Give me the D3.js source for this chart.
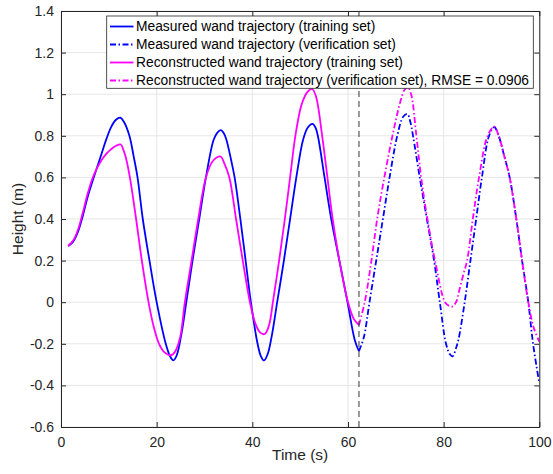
<!DOCTYPE html>
<html><head><meta charset="utf-8">
<script src="https://cdn.jsdelivr.net/npm/d3@7"></script>
<style>body{margin:0;background:#fff;} svg{display:block;font-family:"Liberation Sans",Arial,sans-serif;}</style>
</head><body>
<script>
// ---- data ----
const xTicks = [0, 20, 40, 60, 80, 100];
const xTickLabels = ["0", "20", "40", "60", "80", "100"];
const yTicks = [-0.6, -0.4, -0.2, 0, 0.2, 0.4, 0.6, 0.8, 1, 1.2, 1.4];
const yTickLabels = ["-0.6", "-0.4", "-0.2", "0", "0.2", "0.4", "0.6", "0.8", "1", "1.2", "1.4"];
const splitTime = 62.3;

const measTrainT = [1.5,2.5,3.5,4.5,5.5,6.5,7.5,8.5,9.5,10.5,11.5,12.4,13.2,14.3,15.2,16,17.1,18.5,20,21.9,22.8,23.5,24.2,25.2,26.2,27.5,28.9,30.3,31.9,32.7,33.4,34.1,34.6,35.6,36.3,37.5,38.6,39.7,41.1,41.8,42.45,43.2,44,45.2,46.6,47.9,49.2,50.6,51.6,52.6,53.2,53.7,55.1,56.5,58.2,59.9,61.4,62.3];
const measTrainV = [0.27,0.29,0.335,0.41,0.50,0.575,0.645,0.715,0.785,0.843,0.877,0.887,0.865,0.80,0.70,0.60,0.40,0.20,0.0,-0.20,-0.26,-0.28,-0.255,-0.15,0.0,0.2,0.4,0.6,0.78,0.815,0.827,0.81,0.78,0.68,0.6,0.4,0.2,0.0,-0.2,-0.26,-0.28,-0.25,-0.17,0.0,0.2,0.4,0.6,0.78,0.84,0.857,0.84,0.8,0.6,0.4,0.2,0.0,-0.18,-0.235];

const measVerT = [62.3,63.3,64.5,65.9,67.3,68.7,70.3,71.5,72.4,73,73.6,75,76.5,78,79.2,80.5,81.3,81.9,82.6,83.1,84.4,85.6,86.8,88,89.5,90.6,91.5,92.7,93.8,95.2,96.4,97.7,98.7,100];
const measVerV = [-0.235,-0.17,0.0,0.2,0.4,0.6,0.8,0.89,0.905,0.87,0.8,0.6,0.4,0.2,0.0,-0.2,-0.25,-0.26,-0.22,-0.18,0.0,0.2,0.4,0.6,0.8,0.842,0.80,0.7,0.6,0.4,0.2,0.0,-0.2,-0.39];

const recTrainT = [1.5,2.5,3.5,4.5,5.5,6.5,7.5,8.5,9.5,10.5,11.5,12.5,13,13.5,14.4,15.7,16.9,18.3,19.3,20.5,21.6,23,23.8,24.9,25.9,27.3,28.7,30.3,31.8,33.4,34.1,35.2,36.6,38,39.5,40.6,41.6,42.6,43.5,44.3,45.6,46.8,47.9,49,50.3,51.5,52.5,53.3,54.6,55.7,56.8,58.2,60,61.2,62.3];
const recTrainV = [0.27,0.295,0.345,0.425,0.515,0.59,0.643,0.684,0.714,0.736,0.752,0.758,0.735,0.70,0.60,0.40,0.20,0.0,-0.11,-0.2,-0.24,-0.255,-0.24,-0.17,0.0,0.2,0.4,0.6,0.68,0.70,0.67,0.6,0.4,0.2,0.0,-0.1,-0.145,-0.153,-0.11,0.0,0.2,0.4,0.6,0.8,0.95,1.01,1.025,0.99,0.8,0.6,0.4,0.2,0.0,-0.08,-0.11];

const recVerT = [62.3,63.5,64.9,66.1,67.6,69.3,70.9,71.8,72.5,73.2,74.3,75.3,76.6,78.2,80.3,81.2,81.9,82.6,83.3,84.2,84.9,86.1,87.4,89.2,90.6,91.5,92.7,93.8,95.2,96.4,97.7,98.8,100];
const recVerV = [-0.11,0.0,0.2,0.4,0.6,0.8,0.96,1.02,1.033,1.0,0.8,0.6,0.4,0.2,0.0,-0.018,-0.02,0.0,0.06,0.14,0.2,0.4,0.6,0.8,0.844,0.80,0.7,0.6,0.4,0.2,0.0,-0.12,-0.19];

const legendLabels = [
  "Measured wand trajectory (training set)",
  "Measured wand trajectory (verification set)",
  "Reconstructed wand trajectory (training set)",
  "Reconstructed wand trajectory (verification set), RMSE = 0.0906"
];
const seriesColors = ["#0000ff", "#0000ff", "#ff00ff", "#ff00ff"];
const seriesDash = [null, "6,2.5,1.5,2.5", null, "6,2.5,1.5,2.5"];

// ---- chart ----
const W = 553, H = 474;
const L = 61, R = 539.3, T = 11, B = 427;
const svg = d3.select("body").append("svg").attr("width", W).attr("height", H);
svg.append("rect").attr("width", W).attr("height", H).attr("fill", "#fff");

const x = d3.scaleLinear().domain([0, 100]).range([L, R]);
const y = d3.scaleLinear().domain([-0.6, 1.4]).range([B, T]);

const axisColor = "#262626";
// grid
const grid = svg.append("g");
grid.selectAll(".gx").data(xTicks).join("line")
  .attr("x1", d => x(d)).attr("x2", d => x(d)).attr("y1", T).attr("y2", B)
  .attr("stroke", "#e6e6e6").attr("stroke-width", 1);
grid.selectAll(".gy").data(yTicks).join("line")
  .attr("y1", d => y(d)).attr("y2", d => y(d)).attr("x1", L).attr("x2", R)
  .attr("stroke", "#e6e6e6").attr("stroke-width", 1);

// series
svg.append("clipPath").attr("id", "clip").append("rect")
  .attr("x", L).attr("y", T).attr("width", R - L).attr("height", B - T);
const line = d3.line().x(d => x(d[0])).y(d => y(d[1])).curve(d3.curveCatmullRom.alpha(0.5));
const series = [
  d3.zip(measTrainT, measTrainV),
  d3.zip(measVerT, measVerV),
  d3.zip(recTrainT, recTrainV),
  d3.zip(recVerT, recVerV)
];
const plot = svg.append("g").attr("clip-path", "url(#clip)");
series.forEach((s, i) => {
  plot.append("path").datum(s).attr("d", line)
    .attr("fill", "none").attr("stroke", seriesColors[i]).attr("stroke-width", 1.8)
    .attr("stroke-dasharray", seriesDash[i]).attr("stroke-linejoin", "round");
});
// split line
plot.append("line").attr("x1", x(splitTime)).attr("x2", x(splitTime)).attr("y1", T).attr("y2", B)
  .attr("stroke", "#333").attr("stroke-width", 1).attr("stroke-dasharray", "6,4");

// axes (ticks inside)
const tickLen = 5;
const fmtX = (d, i) => xTickLabels[i];
const fmtY = (d, i) => yTickLabels[i];
const gxB = svg.append("g").attr("transform", `translate(0,${B})`)
  .call(d3.axisBottom(x).tickValues(xTicks).tickFormat(fmtX).tickSizeInner(-tickLen).tickSizeOuter(0).tickPadding(10));
const gxT = svg.append("g").attr("transform", `translate(0,${T})`)
  .call(d3.axisTop(x).tickValues(xTicks).tickFormat("").tickSizeInner(-tickLen).tickSizeOuter(0));
const gyL = svg.append("g").attr("transform", `translate(${L},0)`)
  .call(d3.axisLeft(y).tickValues(yTicks).tickFormat(fmtY).tickSizeInner(-tickLen).tickSizeOuter(0).tickPadding(7));
const gyR = svg.append("g").attr("transform", `translate(${R},0)`)
  .call(d3.axisRight(y).tickValues(yTicks).tickFormat("").tickSizeInner(-tickLen).tickSizeOuter(0));
[gxB, gxT, gyL, gyR].forEach(g => {
  g.select(".domain").attr("stroke", axisColor).attr("stroke-width", 1);
  g.selectAll(".tick line").attr("stroke", axisColor);
  g.selectAll(".tick text").attr("fill", axisColor).attr("font-size", 14)
    .attr("font-family", '"Liberation Sans",Arial,sans-serif');
});

// axis labels
svg.append("text").attr("x", (L + R) / 2).attr("y", 460).attr("text-anchor", "middle")
  .attr("font-size", 15.5).attr("fill", axisColor).text("Time (s)");
svg.append("text").attr("transform", `translate(23,${(T + B) / 2}) rotate(-90)`)
  .attr("text-anchor", "middle").attr("font-size", 15.5).attr("fill", axisColor).text("Height (m)");

// legend
const lgX = 106.7, lgY = 16, lgW = 426.6, lgH = 72.3;
const lg = svg.append("g");
lg.append("rect").attr("x", lgX).attr("y", lgY).attr("width", lgW).attr("height", lgH)
  .attr("fill", "#fff").attr("stroke", axisColor).attr("stroke-width", 0.8);
legendLabels.forEach((lab, i) => {
  const cy = 26.5 + i * 18;
  lg.append("line").attr("x1", 110).attr("x2", 133.5).attr("y1", cy).attr("y2", cy)
    .attr("stroke", seriesColors[i]).attr("stroke-width", 1.8).attr("stroke-dasharray", seriesDash[i]);
  lg.append("text").attr("x", 136).attr("y", cy + 4.8).attr("font-size", 13.8)
    .attr("fill", "#000").text(lab);
});
</script>
</body></html>
